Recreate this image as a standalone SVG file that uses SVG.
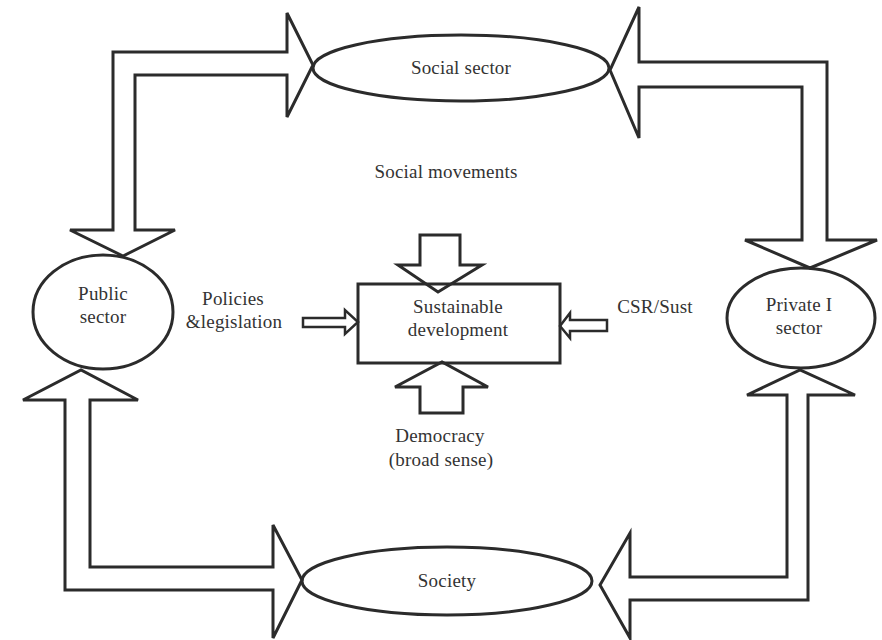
<svg xmlns="http://www.w3.org/2000/svg" width="882" height="640" viewBox="0 0 882 640">
<style>
.s{fill:none;stroke:#2b2b2b;stroke-width:3;stroke-linejoin:miter}
.a{fill:none;stroke:#2b2b2b;stroke-width:3;stroke-linejoin:miter}
text{font-family:'Liberation Serif','DejaVu Serif',serif;font-size:19px;letter-spacing:0.2px;fill:#333;text-anchor:middle}
</style>
<rect width="882" height="640" fill="#ffffff"/>
<g id="connectors">
<path class="a" d="M287,52 L287,13 L313,65 L287,117 L287,75 L135,75 L135,230 L175,230 L123,256 L70,230 L113,230 L113,52 Z"/>
<path class="a" d="M639,62 L639,7 L610,70 L639,138 L639,87 L802,87 L802,240 L745,240 L810,268 L877,240 L827,240 L827,62 Z"/>
<path class="a" d="M273,567 L273,525 L302,580 L273,638 L273,590 L65,590 L65,400 L23,400 L81,370 L138,400 L90,400 L90,567 Z"/>
<path class="a" d="M630,577 L630,533 L600,585 L630,638 L630,600 L808,600 L808,395 L855,395 L800,370 L747,395 L787,395 L787,577 Z"/>
<path class="a" d="M420,235 L460,235 L460,265 L482,265 L438,292 L398,265 L420,265 Z"/>
<path class="a" d="M420,413 L463,413 L463,387 L488,387 L442,362 L395,387 L420,387 Z"/>
<path class="a" d="M303,318 L345,318 L345,310 L358,322 L345,334 L345,327 L303,327 Z" style="stroke-width:2.5"/>
<path class="a" d="M607,320 L570,320 L570,313 L560,326 L570,338 L570,331 L607,331 Z" style="stroke-width:2.5"/>
</g>
<g id="social-sector">
<ellipse class="s" cx="461" cy="68" rx="148" ry="33"/>
<text x="461" y="74">Social sector</text>
</g>
<g id="public-sector">
<ellipse class="s" cx="103" cy="312" rx="70" ry="57"/>
<text x="103" y="300">Public</text>
<text x="103" y="323">sector</text>
</g>
<g id="private-sector">
<ellipse class="s" cx="801" cy="318" rx="74" ry="50"/>
<text x="799" y="311">Private I</text>
<text x="799" y="334">sector</text>
</g>
<g id="society">
<ellipse class="s" cx="447" cy="581" rx="145" ry="34"/>
<text x="447" y="587">Society</text>
</g>
<g id="sustainable-development">
<rect class="s" x="358" y="284" width="202" height="79"/>
<text x="458" y="313">Sustainable</text>
<text x="458" y="336">development</text>
</g>
<g id="labels">
<text x="446" y="178">Social movements</text>
<text x="233" y="305">Policies</text>
<text x="234" y="328">&amp;legislation</text>
<text x="655" y="313">CSR/Sust</text>
<text x="440" y="442">Democracy</text>
<text x="441" y="466">(broad sense)</text>
</g>
</svg>
